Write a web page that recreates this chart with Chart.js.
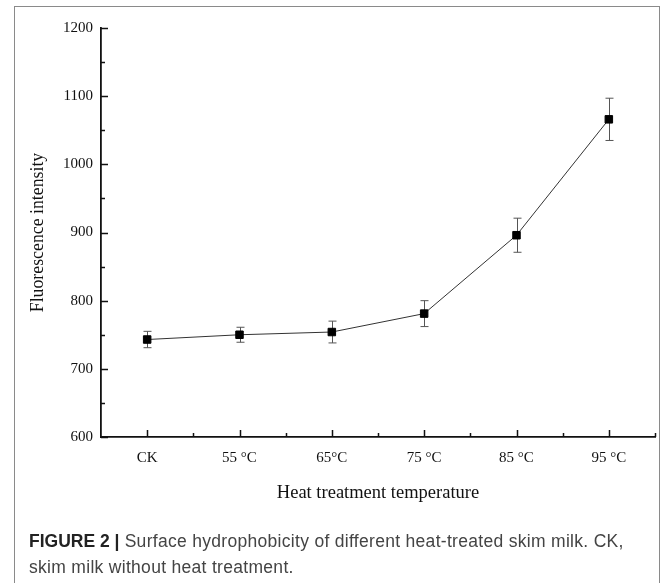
<!DOCTYPE html>
<html>
<head>
<meta charset="utf-8">
<script src="https://cdn.jsdelivr.net/npm/chart.js@4.4.0/dist/chart.umd.min.js"></script>
<style>
  body { margin: 0; background: #fff; width: 669px; height: 583px; overflow: hidden; position: relative; }
  #frame { position: absolute; left: 14px; top: 6px; width: 646px; height: 620px; border: 1.5px solid #8a8a8a; box-sizing: border-box; }
  #wrap { position: absolute; left: 0; top: 0; width: 669px; height: 583px; }
  #caption {
    position: absolute; left: 29px; top: 528px; width: 630px; white-space: nowrap;
    font-family: "Liberation Sans", Arial, sans-serif; font-size: 17.5px; line-height: 26px;
    color: #444; letter-spacing: 0.3px;
  }
  #caption b { color: #222; letter-spacing: 0; }
</style>
</head>
<body>
<div id="frame"></div>
<div id="wrap"><canvas id="chart" width="669" height="583"></canvas></div>
<div id="caption"><b>FIGURE 2 |</b> Surface hydrophobicity of different heat-treated skim milk. CK,<br>skim milk without heat treatment.</div>
<script>
// Data
const categories = ["CK", "55 °C", "65°C", "75 °C", "85 °C", "95 °C"];
const intensity = [743, 750, 754, 781, 896, 1066];
const errors = [12, 11, 16, 19, 25, 31];
const yMin = 600;
const yMax = 1200;
const yStep = 100;

const serif = "'Liberation Serif', 'Times New Roman', serif";

// Error bars, drawn under the markers
const errorBars = {
  id: "errorBars",
  beforeDatasetsDraw(chart) {
    const { ctx, scales: { x, y } } = chart;
    ctx.save();
    ctx.strokeStyle = "#555";
    ctx.lineWidth = 1;
    intensity.forEach((v, i) => {
      const px = Math.round(x.getPixelForValue(i)) + 0.5;
      const top = y.getPixelForValue(v + errors[i]);
      const bot = y.getPixelForValue(v - errors[i]);
      ctx.beginPath();
      ctx.moveTo(px, top); ctx.lineTo(px, bot);
      ctx.moveTo(px - 4, top); ctx.lineTo(px + 4, top);
      ctx.moveTo(px - 4, bot); ctx.lineTo(px + 4, bot);
      ctx.stroke();
    });
    ctx.restore();
  }
};

// Inward tick marks (major and minor) on both axes
const innerTicks = {
  id: "innerTicks",
  afterDraw(chart) {
    const { ctx, scales: { x, y } } = chart;
    const axisX = chart.chartArea.left;
    const axisY = chart.chartArea.bottom;
    ctx.save();
    ctx.strokeStyle = "#111";
    ctx.lineWidth = 1.5;
    ctx.beginPath();
    for (let v = yMin; v <= yMax; v += yStep / 2) {
      const py = Math.round(y.getPixelForValue(v)) + 0.5;
      const len = (v - yMin) % yStep === 0 ? 7 : 4;
      ctx.moveTo(axisX, py); ctx.lineTo(axisX + len, py);
    }
    categories.forEach((c, i) => {
      const px = Math.round(x.getPixelForValue(i)) + 0.5;
      ctx.moveTo(px, axisY); ctx.lineTo(px, axisY - 7);
      const bx = Math.round(x.getPixelForValue(i + 0.5)) + 0.5;
      ctx.moveTo(bx, axisY); ctx.lineTo(bx, axisY - 4);
    });
    ctx.stroke();
    ctx.restore();
  }
};

new Chart(document.getElementById("chart"), {
  type: "line",
  data: {
    labels: categories,
    datasets: [{
      data: intensity,
      borderColor: "#333",
      borderWidth: 1,
      pointStyle: "rect",
      pointRadius: 5.3,
      pointBackgroundColor: "#000",
      pointBorderColor: "#000",
      pointBorderWidth: 1,
      tension: 0
    }]
  },
  options: {
    responsive: false,
    animation: false,
    devicePixelRatio: 1,
    layout: { padding: { top: 28, right: 14, left: 0, bottom: 0 } },
    plugins: { legend: { display: false }, tooltip: { enabled: false } },
    scales: {
      x: {
        offset: true,
        grid: { display: false, drawTicks: false },
        border: { display: true, color: "#111", width: 1.8 },
        ticks: { color: "#111", font: { family: serif, size: 15 }, padding: 12, maxRotation: 0 },
        title: {
          display: true, text: "Heat treatment temperature", color: "#111",
          font: { family: serif, size: 18.5 }, padding: { top: 0, bottom: 79 }
        },
        afterFit(scale) { scale.height = 146; }
      },
      y: {
        min: yMin,
        max: yMax,
        grid: { display: false, drawTicks: false },
        border: { display: true, color: "#111", width: 1.8 },
        ticks: {
          stepSize: yStep, color: "#111", font: { family: serif, size: 15 }, padding: 8,
          callback: (v) => String(v)
        },
        title: {
          display: true, text: "Fluorescence intensity", color: "#111",
          font: { family: serif, size: 17.8 }, padding: { top: 28, bottom: 0 }
        },
        afterFit(scale) { scale.width = 101; }
      }
    }
  },
  plugins: [errorBars, innerTicks]
});
</script>
</body>
</html>
